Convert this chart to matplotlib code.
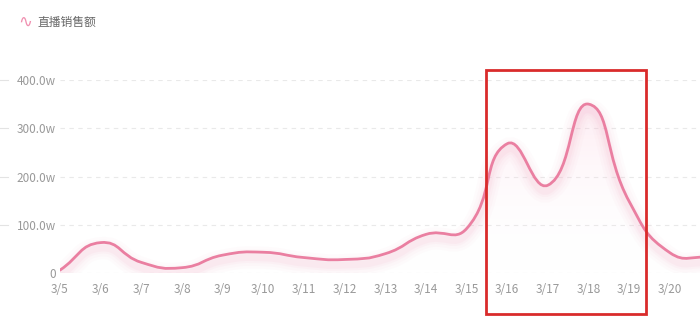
import matplotlib
matplotlib.use("Agg")
import matplotlib.pyplot as plt
import numpy as np
from matplotlib.path import Path
from matplotlib.patches import PathPatch, Rectangle
from matplotlib.lines import Line2D
import matplotlib.transforms as mtransforms

plt.rcParams['font.family'] = ['Noto Sans CJK SC', 'DejaVu Sans']

# 数据
fechas = ['3/5', '3/6', '3/7', '3/8', '3/9', '3/10', '3/11', '3/12', '3/13',
          '3/14', '3/15', '3/16', '3/17', '3/18', '3/19', '3/20', '3/21']
ventas = [6, 63, 22, 11, 37, 43, 32, 28, 40, 80, 92, 268, 182, 350, 148, 42, 32]  # 单位: 万
y_ticks = [0, 100, 200, 300, 400]
y_labels = ['0', '100.0w', '200.0w', '300.0w', '400.0w']

color_linea = '#ea7fa1'
color_texto = '#999999'


def curva_suave(xs, ys, suave=0.5, escala_y=0.483 / 40.66):
    # puntos de control tipo "smooth" de echarts (bezier cubica)
    n = len(xs)
    pts = np.column_stack([xs, np.array(ys, dtype=float)])
    esc = np.array([1.0, escala_y])
    verts = [tuple(pts[0])]
    codes = [Path.MOVETO]
    cps = []
    for i in range(n):
        p = pts[i]
        prev = pts[max(i - 1, 0)]
        nxt = pts[min(i + 1, n - 1)]
        v = nxt - prev
        d0 = np.hypot(*((p - prev) * esc))
        d1 = np.hypot(*((nxt - p) * esc))
        tot = d0 + d1 if d0 + d1 > 0 else 1
        cps.append((p - v * suave * d0 / tot, p + v * suave * d1 / tot))
    for i in range(n - 1):
        verts += [tuple(cps[i][1]), tuple(cps[i + 1][0]), tuple(pts[i + 1])]
        codes += [Path.CURVE4] * 3
    return verts, codes


fig = plt.figure(figsize=(7, 3.24), dpi=100)
ax = fig.add_axes([60 / 700, 51 / 324, 640 / 700, 193 / 324])

x = np.arange(len(fechas))
verts, codes = curva_suave(x, ventas)
linea = Path(verts, codes)

# relleno degradado bajo la curva
area = Path(verts + [(x[-1], 0), (x[0], 0), (x[0], 0)],
            codes + [Path.LINETO, Path.LINETO, Path.CLOSEPOLY])
grad = np.linspace(0, 1, 256).reshape(-1, 1)
cmap = matplotlib.colors.LinearSegmentedColormap.from_list(
    'g', [(1, 1, 1, 0), (0.98, 0.72, 0.82, 0.35)])
img = ax.imshow(grad, extent=[x[0], x[-1], 0, 400], origin='lower',
                aspect='auto', cmap=cmap, zorder=1)
parche_area = PathPatch(area, facecolor='none', edgecolor='none')
ax.add_patch(parche_area)
img.set_clip_path(parche_area)

# sombra difusa de la linea
tr = mtransforms.offset_copy(ax.transData, fig=fig, x=0, y=-4, units='points')
for lw, a in [(16, 0.035), (12, 0.045), (8, 0.06), (5, 0.08)]:
    ax.add_patch(PathPatch(linea, facecolor='none', edgecolor='#f49fbb', lw=lw,
                           alpha=a, transform=tr, zorder=2, capstyle='round'))

ax.add_patch(PathPatch(linea, facecolor='none', edgecolor=color_linea, lw=2.0,
                       zorder=3, capstyle='round', joinstyle='round'))

ax.set_xticks(x)
ax.set_xticklabels(fechas)
ax.set_yticks(y_ticks)
ax.set_yticklabels(y_labels)
ax.set_xlim(0, 15.74)
ax.set_ylim(0, 400)
ax.tick_params(axis='both', length=0, labelsize=8.5, labelcolor=color_texto)
ax.tick_params(axis='x', pad=7)
ax.tick_params(axis='y', pad=3)
ax.grid(axis='y', color='#e9e9e9', linestyle=(0, (4, 4)), lw=0.8)
for s in ax.spines.values():
    s.set_visible(False)
ax.set_axisbelow(True)

# restos de rejilla en el borde izquierdo
mixto = mtransforms.blended_transform_factory(fig.transFigure, ax.transData)
for yt in y_ticks[1:]:
    fig.add_artist(Line2D([0, 8 / 700], [yt, yt], transform=mixto,
                          color='#e3e3e3', lw=0.8))

# leyenda
fig.text(18 / 700, 1 - 22 / 324, '∿', color='#f090b0', fontsize=12,
         family='DejaVu Sans', va='center', ha='left')
fig.text(37 / 700, 1 - 22 / 324, '直播销售额', color='#666666', fontsize=8.5,
         va='center', ha='left')

# recuadro rojo
fig.add_artist(Rectangle((486 / 700, 10 / 324), 160 / 700, 244 / 324,
                         transform=fig.transFigure, fill=False,
                         edgecolor='#d92b2b', lw=2, zorder=10))

plt.savefig('out.png', dpi=100)
plt.close(fig)
